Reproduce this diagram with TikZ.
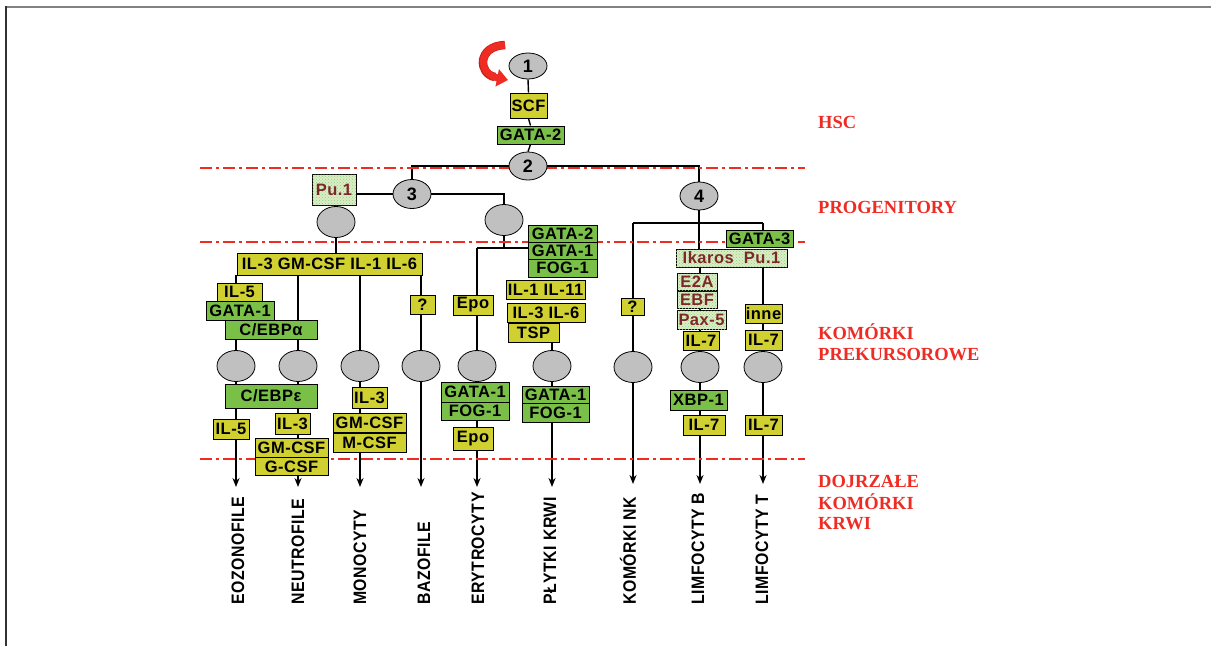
\documentclass[tikz,border=0pt]{standalone}
\usepackage{fontspec}
\newfontfamily\boxf[LetterSpace=3]{Liberation Sans}
\newfontfamily\labf[LetterSpace=3,FakeStretch=0.88]{Liberation Sans}
\newfontfamily\redf{Liberation Serif}
\usetikzlibrary{arrows.meta,patterns,shapes.geometric}
\definecolor{yel}{RGB}{208,208,48}
\definecolor{grn}{RGB}{122,192,72}
\definecolor{pgr}{RGB}{218,238,200}
\definecolor{pdot}{RGB}{150,205,120}
\definecolor{redl}{RGB}{238,44,36}
\definecolor{brn}{RGB}{125,40,40}
\definecolor{cellc}{RGB}{192,192,192}
\pgfdeclarelayer{bg}\pgfsetlayers{bg,main}
\begin{document}
\begin{tikzpicture}[x=1pt,y=-1pt,
 bx/.style={draw=black, line width=0.9pt, inner sep=0pt, font=\boxf\bfseries\fontsize{16.5}{18}\selectfont, text=black},
 yb/.style={bx, fill=yel},
 gb/.style={bx, fill=grn},
 pb/.style={bx, fill=pgr, text=brn, postaction={pattern=crosshatch dots, pattern color=pdot}},
 cellnode/.style={ellipse, draw=black, line width=0.8pt, fill=cellc, inner sep=0pt, font=\boxf\bfseries\fontsize{18}{20}\selectfont, minimum width=38pt, minimum height=31pt},
 up/.style={line width=1.4pt},
 dn/.style={line width=2.2pt, -{Stealth[length=9pt,width=7pt]}},
 sep/.style={draw=redl, line width=2.2pt, dash pattern=on 12pt off 4pt on 3pt off 4pt},
 lab/.style={rotate=90, anchor=west, font=\labf\bfseries\fontsize{18}{20}\selectfont, inner sep=0pt},
 rl/.style={anchor=west, text=redl, font=\redf\bfseries\fontsize{18.5}{20}\selectfont, inner sep=0pt}
]
\useasboundingbox (0,0) rectangle (1211,646);
% frame
\draw[draw={rgb,255:red,130;green,130;blue,130}, line width=2pt] (5,6.5) -- (1211,6.5);
\draw[draw={rgb,255:red,50;green,50;blue,50}, line width=2pt] (5.5,6) -- (5.5,646);

% separators
\draw[sep] (200,168) -- (805,168);
\draw[sep] (200,242) -- (805,242);
\draw[sep] (200,459) -- (805,459);

% cells
\node[cellnode, minimum height=26pt] (n1) at (528,66) {1};
\node[cellnode, minimum height=28pt] (n2) at (528,166) {2};
\node[cellnode, minimum height=29pt] (n3) at (412,194) {3};
\node[cellnode, minimum height=28pt] (n4) at (699,196) {4};
\node[cellnode] (pL) at (336,222) {};
\node[cellnode] (pR) at (504,220) {};
\node[cellnode] (e1) at (236,366) {};
\node[cellnode] (e2) at (298,366) {};
\node[cellnode] (e3) at (360,366) {};
\node[cellnode] (e4) at (421,366) {};
\node[cellnode] (e5) at (477,366) {};
\node[cellnode] (e6) at (552,366) {};
\node[cellnode] (e7) at (633,367) {};
\node[cellnode] (e8) at (700,367) {};
\node[cellnode] (e9) at (763,367) {};

% self-renewal arrow
\draw[draw={rgb,255:red,205;green,30;blue,20}, line width=8.5pt] (505,45) .. controls (477,46) and (478,74) .. (495,77);
\draw[draw=redl, line width=7pt, -{Triangle[length=11pt,width=17pt]}] (505,45) .. controls (477,46) and (478,74) .. (508,80);

% boxes
\node[yb, minimum width=37pt, minimum height=25pt] (scf) at (528.5,105.5) {SCF};
\node[gb, minimum width=67pt, minimum height=18pt] (gata2) at (530.5,135) {GATA-2};
\node[pb, minimum width=44pt, minimum height=31pt] (pu1) at (334,189.5) {Pu.1};
\node[yb, minimum width=185pt, minimum height=22pt] (big) at (329.5,264) {IL-3 GM-CSF IL-1 IL-6};
\node[yb, minimum width=45pt, minimum height=18pt] (il5a) at (239.5,292) {IL-5};
\node[gb, minimum width=68pt, minimum height=19pt] (gata1a) at (240,310.5) {GATA-1};
\node[gb, minimum width=92pt, minimum height=19pt] (cebpa) at (271,329.5) {C/EBPα};
\node[yb, minimum width=25pt, minimum height=19pt] (qa) at (422.5,304.5) {?};
\node[gb, minimum width=92pt, minimum height=24pt] (cebpe) at (271,396) {C/EBPε};
\node[yb, minimum width=36pt, minimum height=20pt] (il5b) at (231,429) {IL-5};
\node[yb, minimum width=35pt, minimum height=21pt] (il3n) at (292.5,423.5) {IL-3};
\node[yb, minimum width=73pt, minimum height=19pt] (gmn) at (291.5,447.5) {GM-CSF};
\node[yb, minimum width=73pt, minimum height=18pt] (gcsf) at (291.5,466.5) {G-CSF};
\node[yb, minimum width=35pt, minimum height=21pt] (il3m) at (369.5,397.5) {IL-3};
\node[yb, minimum width=73pt, minimum height=19pt] (gmm) at (369.5,422.5) {GM-CSF};
\node[yb, minimum width=73pt, minimum height=19pt] (mcsf) at (369.5,442.5) {M-CSF};
\node[gb, minimum width=69pt, minimum height=17pt] (gata2p) at (562.5,233.5) {GATA-2};
\node[gb, minimum width=69pt, minimum height=17pt] (gata1p) at (562.5,250.5) {GATA-1};
\node[gb, minimum width=69pt, minimum height=18pt] (fog1p) at (562.5,268) {FOG-1};
\node[yb, minimum width=79pt, minimum height=19pt] (il111) at (545.5,289.5) {IL-1 IL-11};
\node[yb, minimum width=78pt, minimum height=19pt] (il36) at (546,312.5) {IL-3 IL-6};
\node[yb, minimum width=51pt, minimum height=19pt] (tsp) at (533.5,332.5) {TSP};
\node[yb, minimum width=40pt, minimum height=20pt] (epoa) at (473,305) {Epo};
\node[gb, minimum width=68pt, minimum height=20pt] (gata1e) at (475,392) {GATA-1};
\node[gb, minimum width=68pt, minimum height=18pt] (fog1e) at (475,411) {FOG-1};
\node[yb, minimum width=40pt, minimum height=23pt] (epob) at (473,438.5) {Epo};
\node[gb, minimum width=67pt, minimum height=17pt] (gata1l) at (555.5,394.5) {GATA-1};
\node[gb, minimum width=67pt, minimum height=19pt] (fog1l) at (555.5,412.5) {FOG-1};
\node[yb, minimum width=23pt, minimum height=17pt] (qnk) at (632.5,306.5) {?};
\node[gb, minimum width=67pt, minimum height=17pt] (gata3) at (759.5,238.5) {GATA-3};
\node[pb, minimum width=111pt, minimum height=18pt] (ikaros) at (731.5,258) {Ikaros\ \ Pu.1};
\node[pb, minimum width=40pt, minimum height=17pt] (e2a) at (697,281.5) {E2A};
\node[pb, minimum width=40pt, minimum height=17pt] (ebf) at (697,299.5) {EBF};
\node[pb, minimum width=49pt, minimum height=19pt] (pax5) at (701.5,319.5) {Pax-5};
\node[yb, minimum width=36pt, minimum height=19pt] (il7b1) at (701,340.5) {IL-7};
\node[yb, minimum width=37pt, minimum height=19pt] (inne) at (763.5,313.5) {inne};
\node[yb, minimum width=37pt, minimum height=20pt] (il7t1) at (763.5,340) {IL-7};
\node[gb, minimum width=57pt, minimum height=20pt] (xbp1) at (698.5,400) {XBP-1};
\node[yb, minimum width=42pt, minimum height=20pt] (il7b2) at (704,425) {IL-7};
\node[yb, minimum width=37pt, minimum height=20pt] (il7t2) at (763.5,425) {IL-7};

% arrow ends
\coordinate (t1) at (236,487);
\coordinate (t2) at (298,487);
\coordinate (t3) at (360,487);
\coordinate (t4) at (421,487);
\coordinate (t5) at (477,487);
\coordinate (t6) at (552,487);
\coordinate (t7) at (633,484);
\coordinate (t8) at (700,484);
\coordinate (t9) at (763,484);
\coordinate (jE) at (504,248);
\coordinate (jL) at (633,223);

% connectors
\begin{pgfonlayer}{bg}
\draw[up] (n1.south) -- (scf.north);
\draw[up] (scf.south) -- (gata2.north);
\draw[up] (gata2.south) -- (n2.north);
\draw[up] (n2.west) -| (n3.north);
\draw[up] (n2.east) -| (n4.north);
\draw[up] (n3.west) -- (pu1.east |- n3.west);
\draw[up] (n3.east) -| (pR.north);
\draw[line width=2.2pt] (pu1.south) -- (pL.north);
\draw[up] (pL.south) -- (pL.south |- big.north);
\draw[up] (e1 |- big.south) -- (e1 |- il5a.north);
\draw[up] (e2 |- big.south) -- (e2 |- cebpa.north);
\draw[up] (e3 |- big.south) -- (e3.north);
\draw[up] (e4 |- big.south) -- (e4 |- qa.north);
\draw[up] (e4 |- qa.south) -- (e4.north);
\draw[up] (e1 |- cebpa.south) -- (e1.north);
\draw[up] (e2 |- cebpa.south) -- (e2.north);
\draw[up] (pR.south) -- (jE);
\draw[up] (e5 |- jE) -- (jE -| gata1p.west);
\draw[line width=2pt] (e5 |- jE) -- (e5.north);
\draw[up] (e6 |- tsp.south) -- (e6.north);
\draw[up] (n4.south) -- (n4 |- jL);
\draw[up] (jL) -- (e9 |- jL);
\draw[line width=2pt] (jL) -- (e7.north);
\draw[up] (n4.south) -- (n4 |- ikaros.north);
\draw[up] (e8 |- ikaros.south) -- (e8.north);
\draw[up] (e9 |- jL) -- (e9 |- gata3.north);
\draw[up] (e9 |- ikaros.south) -- (e9.north);
\draw[dn] (e1.south) -- (t1);
\draw[dn] (e2.south) -- (t2);
\draw[dn] (e3.south) -- (t3);
\draw[dn] (e4.south) -- (t4);
\draw[dn] (e5.south) -- (t5);
\draw[dn] (e6.south) -- (t6);
\draw[dn] (e7.south) -- (t7);
\draw[dn] (e8.south) -- (t8);
\draw[dn] (e9.south) -- (t9);
\end{pgfonlayer}

% cell type labels
\node[lab] (l1) at (238,605) {EOZONOFILE};
\node[lab] (l2) at (298,605) {NEUTROFILE};
\node[lab] (l3) at (360,605) {MONOCYTY};
\node[lab] (l4) at (424,605) {BAZOFILE};
\node[lab] (l5) at (478,605) {ERYTROCYTY};
\node[lab] (l6) at (550,605) {PŁYTKI KRWI};
\node[lab] (l7) at (628,605) {KOMÓRKI NK};
\node[lab] (l8) at (698,605) {LIMFOCYTY B};
\node[lab] (l9) at (762,605) {LIMFOCYTY T};

% stage labels
\node[rl] (r1) at (818,122) {HSC};
\node[rl] (r2) at (818,207) {PROGENITORY};
\node[rl] (r3) at (818,332) {KOMÓRKI};
\node[rl] (r4) at (818,355) {PREKURSOROWE};
\node[rl] (r5) at (818,481) {DOJRZAŁE};
\node[rl] (r6) at (818,502) {KOMÓRKI};
\node[rl] (r7) at (818,524) {KRWI};
\end{tikzpicture}
\end{document}
